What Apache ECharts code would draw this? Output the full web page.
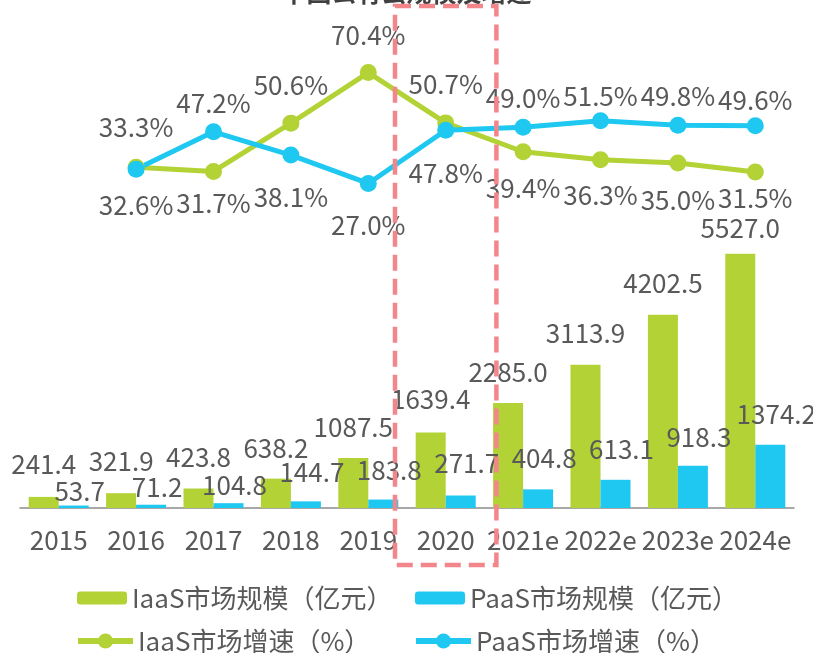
<!DOCTYPE html>
<html><head><meta charset="utf-8">
<script src="https://cdn.jsdelivr.net/npm/echarts@6/dist/echarts.min.js"></script>
<style>html,body{margin:0;padding:0;background:#fff}#c{width:813px;height:653px}</style>
</head><body><div id="c"></div>
<script>
// ---- data ----
const categories = ['2015','2016','2017','2018','2019','2020','2021e','2022e','2023e','2024e'];
const iaasScale = [241.4, 321.9, 423.8, 638.2, 1087.5, 1639.4, 2285.0, 3113.9, 4202.5, 5527.0];
const paasScale = [53.7, 71.2, 104.8, 144.7, 183.8, 271.7, 404.8, 613.1, 918.3, 1374.2];
const iaasGrowth = [null, 33.3, 31.7, 50.6, 70.4, 50.7, 39.4, 36.3, 35.0, 31.5];
const paasGrowth = [null, 32.6, 47.2, 38.1, 27.0, 47.8, 49.0, 51.5, 49.8, 49.6];
const seriesNames = ['IaaS市场规模（亿元）', 'PaaS市场规模（亿元）', 'IaaS市场增速（%）', 'PaaS市场增速（%）'];
const titleText = '中国公有云规模及增速';

// ---- label layout (px) ----
const iaasBarLabelRise = [32.5, 32, 31, 31, 30.5, 33, 31, 32, 32, 26];
const paasBarLabelRise = [14, 18, 18, 29, 29.5, 32.5, 31, 31, 29, 31];
const iaasLineLabelDy = [0, -40, 32, -38, -37, -39, 36, 35, 37, 26];
const paasLineLabelDy = [0, 36, -29, 42, 42, 43, -29, -25, -29, -26];

const GREEN = '#B2D235', BLUE = '#1FC8F0', TXT = '#595959';
const FONT = '"Noto Sans CJK SC", "Noto Sans", sans-serif';
const FS = 26;

const chart = echarts.init(document.getElementById('c'), null, {renderer: 'canvas'});

function barData(vals, rise, dx) {
  return vals.map((v, i) => ({value: v, label: {offset: [dx, -(rise[i] - 13)]}}));
}
function lineData(vals, dy) {
  return vals.map((v, i) => v == null ? '-' : ({value: v, label: {offset: [0, dy[i]]}}));
}

const legendCommon = {
  orient: 'horizontal', padding: 0, itemGap: 0,
  textStyle: {fontSize: FS, color: TXT, fontFamily: FONT}, selectedMode: false
};

const option = {
  animation: false,
  backgroundColor: '#fff',
  textStyle: {fontFamily: FONT},
  title: {text: titleText, left: 'center', top: -20, padding: 0,
    textStyle: {fontSize: 25, fontWeight: 'bold', color: '#404040', fontFamily: FONT}},
  legend: [
    Object.assign({}, legendCommon, {data: [seriesNames[0]], left: 77, top: 585, itemWidth: 50, itemHeight: 13}),
    Object.assign({}, legendCommon, {data: [seriesNames[1]], left: 415, top: 585, itemWidth: 50, itemHeight: 13}),
    Object.assign({}, legendCommon, {data: [seriesNames[2]], left: 75, top: 628, itemWidth: 55, itemHeight: 19,
      lineStyle: {width: 6}}),
    Object.assign({}, legendCommon, {data: [seriesNames[3]], left: 413, top: 628, itemWidth: 55, itemHeight: 19,
      lineStyle: {width: 6}})
  ],
  grid: {left: 20, right: 19, top: 48, bottom: 145, containLabel: false},
  xAxis: {
    type: 'category', data: categories,
    axisLine: {lineStyle: {color: '#8c8c8c', width: 1.5}},
    axisTick: {show: false},
    axisLabel: {fontSize: FS, color: TXT, margin: 19, fontFamily: FONT, interval: 0, hideOverlap: false}
  },
  yAxis: [
    {type: 'value', min: 0, max: 10000, show: false},
    {type: 'value', min: -100, max: 80, show: false}
  ],
  series: [
    {name: seriesNames[0], type: 'bar', yAxisIndex: 0, barWidth: 30, barGap: '0%',
      itemStyle: {color: GREEN},
      label: {show: true, position: 'top', distance: 0, fontSize: FS, lineHeight: 26, color: TXT,
        fontFamily: FONT, formatter: p => p.value.toFixed(1)},
      data: barData(iaasScale, iaasBarLabelRise, 0)},
    {name: seriesNames[1], type: 'bar', yAxisIndex: 0, barWidth: 30, barGap: '0%',
      itemStyle: {color: BLUE},
      label: {show: true, position: 'top', distance: 0, fontSize: FS, lineHeight: 26, color: TXT,
        fontFamily: FONT, formatter: p => p.value.toFixed(1)},
      data: barData(paasScale, paasBarLabelRise, 6)},
    {name: seriesNames[2], type: 'line', yAxisIndex: 1, symbol: 'circle', symbolSize: 17,
      lineStyle: {color: GREEN, width: 5}, itemStyle: {color: GREEN},
      label: {show: true, position: 'inside', fontSize: FS, lineHeight: 26, color: TXT, fontFamily: FONT,
        formatter: p => p.value.toFixed(1) + '%'},
      data: lineData(iaasGrowth, iaasLineLabelDy)},
    {name: seriesNames[3], type: 'line', yAxisIndex: 1, symbol: 'circle', symbolSize: 17,
      lineStyle: {color: BLUE, width: 5}, itemStyle: {color: BLUE},
      label: {show: true, position: 'inside', fontSize: FS, lineHeight: 26, color: TXT, fontFamily: FONT,
        formatter: p => p.value.toFixed(1) + '%'},
      data: lineData(paasGrowth, paasLineLabelDy)}
  ]
};
chart.setOption(option);

// highlight box around the 2020 category
const cx = chart.convertToPixel({xAxisIndex: 0}, '2020');
const band = chart.convertToPixel({xAxisIndex: 0}, '2021e') - cx;
chart.setOption({
  graphic: [{
    type: 'rect', z: 100, silent: true,
    shape: {x: cx - 0.655 * band, y: 6, width: 1.31 * band, height: 559},
    style: {fill: 'none', stroke: '#F2868A', lineWidth: 4.5, lineDash: [16, 8]}
  }]
});
</script>
</body></html>
